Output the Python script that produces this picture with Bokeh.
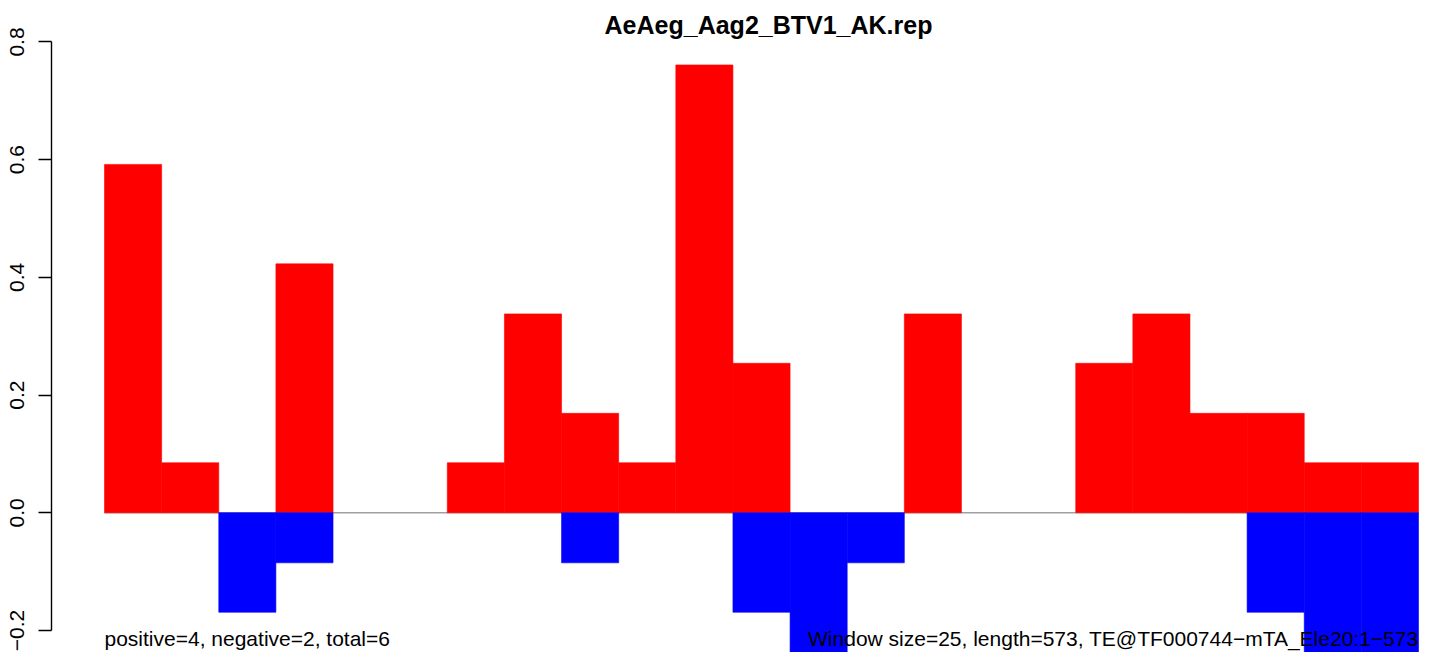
from bokeh.plotting import figure
from bokeh.models import Range1d, FixedTicker, Label, ColumnDataSource
from bokeh.embed import file_html
from bokeh.resources import INLINE

# ---- data ----
title_text = "AeAeg_Aag2_BTV1_AK.rep"
positive_vals = [0.592, 0.085, 0.0, 0.423, 0.0, 0.0, 0.085, 0.338, 0.169, 0.085, 0.761, 0.254,
                 0.0, 0.0, 0.338, 0.0, 0.0, 0.254, 0.338, 0.169, 0.169, 0.085, 0.085]
negative_vals = [0.0, 0.0, -0.169, -0.085, 0.0, 0.0, 0.0, 0.0, -0.085, 0.0, 0.0, -0.169,
                 -0.254, -0.085, 0.0, 0.0, 0.0, 0.0, 0.0, 0.0, -0.169, -0.254, -0.254]
tick_values = [-0.2, 0.0, 0.2, 0.4, 0.6, 0.8]
tick_labels = ["\u22120.2", "0.0", "0.2", "0.4", "0.6", "0.8"]
left_note = "positive=4, negative=2, total=6"
right_note = "Window size=25, length=573, TE@TF000744\u2212mTA_Ele20:1\u2212573"

n = len(positive_vals)

FONT = "Liberation Sans"

p = figure(width=1420, height=652, output_backend="svg", toolbar_location=None,
           x_range=Range1d(-0.928, n + 0.035), y_range=Range1d(-0.2374, 0.8705),
           min_border_left=51, min_border_right=0, min_border_top=0, min_border_bottom=0)
p.xaxis.visible = False
p.xgrid.visible = False
p.ygrid.visible = False
p.outline_line_color = None
p.background_fill_color = "white"
p.border_fill_color = "white"

# zero line
p.segment(x0=[0], y0=[0], x1=[n], y1=[0], line_color="#a0a0a0", line_width=1.5)

pos_idx = [i for i, v in enumerate(positive_vals) if v != 0]
neg_idx = [i for i, v in enumerate(negative_vals) if v != 0]
pos_src = ColumnDataSource(dict(left=pos_idx, right=[i + 1 for i in pos_idx],
                                top=[positive_vals[i] for i in pos_idx],
                                bottom=[0.0] * len(pos_idx)))
neg_src = ColumnDataSource(dict(left=neg_idx, right=[i + 1 for i in neg_idx],
                                top=[0.0] * len(neg_idx),
                                bottom=[negative_vals[i] for i in neg_idx]))
p.quad(left="left", right="right", top="top", bottom="bottom", source=pos_src,
       fill_color="#ff0000", line_color="#ff0000", line_width=0.6)
p.quad(left="left", right="right", top="top", bottom="bottom", source=neg_src,
       fill_color="#0000ff", line_color="#0000ff", line_width=0.6)

ax = p.yaxis[0]
ax.ticker = FixedTicker(ticks=tick_values)
ax.major_label_overrides = {v: lab for v, lab in zip(tick_values, tick_labels)}
ax.bounds = (min(tick_values), max(tick_values))
ax.major_label_orientation = "vertical"
ax.major_label_text_font = FONT
ax.major_label_text_font_size = "21px"
ax.major_label_text_color = "black"
ax.major_label_standoff = 14
ax.major_tick_out = 13
ax.major_tick_in = 0
ax.minor_tick_out = 0
ax.minor_tick_in = 0
ax.axis_line_color = "black"
ax.axis_line_width = 1.4
ax.major_tick_line_width = 1.4
ax.major_tick_line_color = "black"

p.add_layout(Label(x=n / 2, y=max(tick_values), x_offset=7, y_offset=16.5, text=title_text,
                   text_align="center", text_baseline="alphabetic",
                   text_font=FONT, text_font_style="bold", text_font_size="25px",
                   text_color="black"))
p.add_layout(Label(x=0, y=min(tick_values), y_offset=-8, text=left_note,
                   text_align="left", text_baseline="alphabetic",
                   text_font=FONT, text_font_size="21px", text_color="black"))
p.add_layout(Label(x=n, y=min(tick_values), y_offset=-8, text=right_note,
                   text_align="right", text_baseline="alphabetic",
                   text_font=FONT, text_font_size="21px", text_color="black"))

open("out.html", "w").write(file_html(p, INLINE))
